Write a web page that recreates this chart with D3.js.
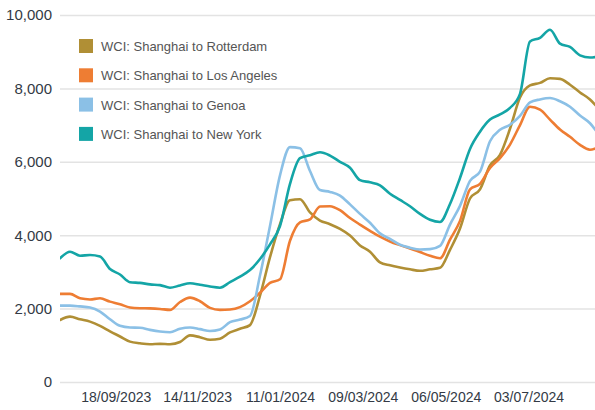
<!DOCTYPE html>
<html>
<head>
<meta charset="utf-8">
<script src="https://cdn.jsdelivr.net/npm/d3@7"></script>
<style>
  html, body { margin: 0; padding: 0; background: #fff; }
  svg { display: block; font-family: "Liberation Sans", Arial, sans-serif; }
</style>
</head>
<body>
<svg id="chart" width="595" height="410"></svg>
<script>
const dates = [
  "2023-08-10","2023-08-17","2023-08-24","2023-08-31","2023-09-07","2023-09-14","2023-09-21","2023-09-28",
  "2023-10-05","2023-10-12","2023-10-19","2023-10-26","2023-11-02","2023-11-09","2023-11-16","2023-11-23",
  "2023-11-30","2023-12-07","2023-12-14","2023-12-21","2023-12-28","2024-01-04","2024-01-11","2024-01-18",
  "2024-01-25","2024-02-01","2024-02-08","2024-02-15","2024-02-22","2024-02-29","2024-03-07","2024-03-14",
  "2024-03-21","2024-03-28","2024-04-04","2024-04-11","2024-04-18","2024-04-25","2024-05-02","2024-05-09",
  "2024-05-16","2024-05-23","2024-05-30","2024-06-06","2024-06-13","2024-06-20","2024-06-27","2024-07-04",
  "2024-07-11","2024-07-18","2024-07-25","2024-08-01","2024-08-08","2024-08-15","2024-08-22"
];

const rotterdam = [1690,1780,1710,1645,1530,1380,1240,1100,1055,1030,1040,1030,1090,1270,1220,1150,
  1180,1350,1450,1550,2350,3400,4300,4950,4980,4620,4400,4300,4170,3990,3720,3550,
  3260,3180,3120,3070,3030,3070,3110,3600,4180,5000,5250,5900,6190,6900,7750,8080,
  8150,8275,8260,8100,7890,7700,7400];

const losAngeles = [2400,2400,2280,2250,2280,2190,2120,2030,2010,2005,1990,1965,2180,2300,2200,2020,
  1965,1975,2040,2200,2430,2700,2800,3850,4350,4430,4780,4790,4680,4470,4290,4120,
  3960,3830,3730,3640,3540,3440,3370,3880,4390,5250,5400,5830,6100,6470,7000,7500,
  7420,7150,6880,6680,6460,6330,6420];

const genoa = [2080,2080,2060,2030,1920,1710,1530,1485,1480,1420,1375,1355,1450,1485,1440,1390,
  1430,1630,1700,1800,2900,4250,5630,6400,6370,5750,5230,5180,5080,4840,4580,4340,
  4050,3900,3740,3660,3610,3620,3710,4290,4800,5480,5730,6560,6870,7010,7250,7620,
  7700,7740,7650,7500,7260,7050,6700];

const newYork = [3370,3550,3440,3460,3420,3080,2930,2720,2700,2660,2640,2570,2630,2690,2650,2600,
  2570,2720,2870,3050,3350,3750,4250,5400,6100,6180,6260,6170,6000,5840,5500,5440,
  5360,5130,4960,4790,4580,4420,4360,4850,5560,6350,6820,7150,7290,7470,7850,9280,
  9380,9600,9220,9130,8900,8840,8880];

const seriesNames = ["WCI: Shanghai to Rotterdam","WCI: Shanghai to Los Angeles","WCI: Shanghai to Genoa","WCI: Shanghai to New York"];
const seriesValues = [rotterdam, losAngeles, genoa, newYork];
const seriesColors = ["#B08F35","#EE7D33","#8BC0E6","#14A5A6"];

const yTicks = [0,2000,4000,6000,8000,10000];
const xTickDates = ["2023-09-18","2023-11-14","2024-01-11","2024-03-09","2024-05-06","2024-07-03"];

const parse = d3.timeParse("%Y-%m-%d");
const fmtX = d3.timeFormat("%d/%m/%Y");
const fmtY = d3.format(",");

const svg = d3.select("#chart");
const W = 595, H = 410;
const plotLeft = 60, plotRight = 595;

const x = d3.scaleTime()
  .domain([parse(dates[0]), parse(dates[dates.length-1])])
  .range([60, 600]);
const y = d3.scaleLinear().domain([0, 10000]).range([382, 15]);

svg.append("defs").append("clipPath").attr("id","clip")
  .append("rect").attr("x", plotLeft).attr("y", 0).attr("width", plotRight - plotLeft).attr("height", H);

// gridlines
const yAxis = d3.axisLeft(y).tickValues(yTicks).tickFormat(fmtY)
  .tickSize(-(plotRight - plotLeft)).tickPadding(8);
const gy = svg.append("g").attr("transform", `translate(${plotLeft},0)`).call(yAxis);
gy.select(".domain").remove();
gy.selectAll(".tick line").attr("stroke", "#e3e3e3").attr("stroke-width", 1.5);
gy.selectAll(".tick text").attr("fill", "#333a45").attr("font-size", 15)
  .attr("font-family", "Liberation Sans, Arial, sans-serif");

const xAxis = d3.axisBottom(x).tickValues(xTickDates.map(parse)).tickFormat(fmtX).tickSize(0).tickPadding(10);
const gx = svg.append("g").attr("transform", `translate(0,${y(0)})`).call(xAxis);
gx.select(".domain").remove();
gx.selectAll(".tick text").attr("fill", "#333a45").attr("font-size", 14)
  .attr("font-family", "Liberation Sans, Arial, sans-serif");

// lines
const line = d3.line()
  .x((d, i) => x(parse(dates[i])))
  .y(d => y(d))
  .curve(d3.curveMonotoneX);

const gl = svg.append("g").attr("clip-path", "url(#clip)");
seriesValues.forEach((vals, k) => {
  gl.append("path")
    .datum(vals)
    .attr("fill", "none")
    .attr("stroke", seriesColors[k])
    .attr("stroke-width", 2.6)
    .attr("stroke-linejoin", "round")
    .attr("stroke-linecap", "round")
    .attr("d", line);
});

// legend
const lg = svg.append("g").attr("transform", "translate(79,39)");
seriesNames.forEach((name, k) => {
  const row = lg.append("g").attr("transform", `translate(0,${k * 29.3})`);
  row.append("rect").attr("width", 14).attr("height", 14).attr("fill", seriesColors[k]);
  row.append("text").attr("x", 22).attr("y", 12).attr("font-size", 13)
    .attr("fill", "#555").text(name);
});
</script>
</body>
</html>
